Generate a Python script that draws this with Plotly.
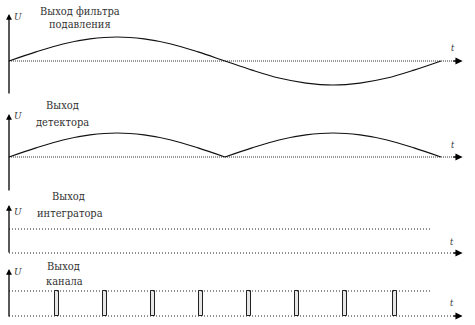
import plotly.graph_objects as go

W, H = 475, 325
PX_PER_T = 48.0   # horizontal pixels per time unit
X0_PX = 9         # pixel x of t = 0

# ---------------- data ----------------
t_sig = [0, 0.5625, 1.125, 1.6875, 2.25, 2.8125, 3.375, 3.9375, 4.5,
         5.0625, 5.625, 6.1875, 6.75, 7.3125, 7.875, 8.4375, 9.0]
v_filter = [0, 0.38, 0.71, 0.92, 1.0, 0.92, 0.71, 0.38, 0,
            -0.38, -0.71, -0.92, -1.0, -0.92, -0.71, -0.38, 0]
t_arch1 = [0, 0.5625, 1.125, 1.6875, 2.25, 2.8125, 3.375, 3.9375, 4.5]
t_arch2 = [4.5, 5.0625, 5.625, 6.1875, 6.75, 7.3125, 7.875, 8.4375, 9.0]
v_det1 = [0, 0.38, 0.71, 0.92, 1.0, 0.92, 0.71, 0.38, 0]
v_det2 = [0, 0.38, 0.71, 0.92, 1.0, 0.92, 0.71, 0.38, 0]
t_int = [0, 8.77]
v_int = [1, 1]
t_pulse = [1, 2, 3, 4, 5, 6, 7, 8.04]
v_pulse = [1, 1, 1, 1, 1, 1, 1, 1]
t_base = [0, 9.3]
v_base = [0, 0]
T_ARROW_END = 9.45

titles = [("Выход фильтра", "подавления"), ("Выход", "детектора"),
          ("Выход", "интегратора"), ("Выход", "канала")]

# ---------------- layout geometry (pixels) ----------------
panels = [
    dict(top=0, bot=100, base=61, s=24.0, ytop=14, ybot=95),
    dict(top=100, bot=196, base=157, s=24.0, ytop=114, ybot=192),
    dict(top=196, bot=262, base=253, s=24.0, ytop=205, ybot=254),
    dict(top=262, bot=325, base=316, s=25.0, ytop=269, ybot=318),
]
title_pos = [((80, 11), (80, 25)), ((62, 106), (62, 122)),
             ((68, 196), (70, 213)), ((63, 266), (64, 281))]
u_pos = [(18, 17), (18, 115), (18, 212), (18, 271)]
t_pos = [(453, 48), (453, 145), (452, 242), (452, 303)]

def px2val(p, panel):
    return (panel["base"] - p) / panel["s"]

fig = go.Figure()
LINE = "#111111"
serif = "DejaVu Serif Condensed, DejaVu Serif"

xrange_ = [-X0_PX / PX_PER_T, (W - X0_PX) / PX_PER_T]
layout = dict(width=W, height=H, margin=dict(l=0, r=0, t=0, b=0),
              paper_bgcolor="white", plot_bgcolor="white", showlegend=False,
              bargap=0, font=dict(family=serif, size=11, color="#333333"))
annotations = []

for i, p in enumerate(panels):
    n = i + 1
    xa = "x" if n == 1 else f"x{n}"
    ya = "y" if n == 1 else f"y{n}"
    common = dict(showgrid=False, zeroline=False, showticklabels=False,
                  ticks="", showline=False, fixedrange=True)
    layout["xaxis" if n == 1 else f"xaxis{n}"] = dict(
        domain=[0, 1], range=xrange_, anchor=ya, **common)
    layout["yaxis" if n == 1 else f"yaxis{n}"] = dict(
        domain=[1 - p["bot"] / H, 1 - p["top"] / H],
        range=[px2val(p["bot"], p), px2val(p["top"], p)], anchor=xa, **common)

    if n <= 2:
        fig.add_trace(go.Scatter(x=t_base, y=v_base, mode="lines",
                                 line=dict(color="#777777", width=1.6, dash="1px,1px"),
                                 xaxis=xa, yaxis=ya, hoverinfo="skip"))
    else:
        fig.add_trace(go.Scatter(x=t_base, y=v_base, mode="lines",
                                 line=dict(color="#222222", width=1.2, dash="1px,2px"),
                                 xaxis=xa, yaxis=ya, hoverinfo="skip"))

    annotations.append(dict(x=T_ARROW_END, y=0, ax=T_ARROW_END - 0.22, ay=0,
                            xref=xa, yref=ya, axref=xa, ayref=ya, text="",
                            showarrow=True, arrowhead=2, arrowsize=1.1,
                            arrowwidth=1.3, arrowcolor="#000"))
    annotations.append(dict(x=0, y=px2val(p["ytop"], p), ax=0, ay=px2val(p["ybot"], p),
                            xref=xa, yref=ya, axref=xa, ayref=ya, text="",
                            showarrow=True, arrowhead=2, arrowsize=0.9,
                            arrowwidth=1.3, arrowcolor="#000"))
    for (tx, ty), txt in zip(title_pos[i], titles[i]):
        annotations.append(dict(x=tx / W, y=1 - ty / H, xref="paper", yref="paper",
                                text=txt, showarrow=False, xanchor="center",
                                yanchor="middle",
                                font=dict(family=serif, size=11, color="#333333")))
    ux, uy = u_pos[i]
    annotations.append(dict(x=ux / W, y=1 - uy / H, xref="paper", yref="paper",
                            text="<i>U</i>", showarrow=False, xanchor="center",
                            yanchor="middle",
                            font=dict(family=serif, size=10, color="#333333")))
    tx, ty = t_pos[i]
    annotations.append(dict(x=tx / W, y=1 - ty / H, xref="paper", yref="paper",
                            text="<i>t</i>", showarrow=False, xanchor="center",
                            yanchor="middle",
                            font=dict(family=serif, size=9, color="#333333")))

fig.add_trace(go.Scatter(x=t_sig, y=v_filter, mode="lines",
                         line=dict(color=LINE, width=1.1, shape="spline"),
                         xaxis="x", yaxis="y", hoverinfo="skip"))
for tt, vv in ((t_arch1, v_det1), (t_arch2, v_det2)):
    fig.add_trace(go.Scatter(x=tt, y=vv, mode="lines",
                             line=dict(color=LINE, width=1.1, shape="spline"),
                             xaxis="x2", yaxis="y2", hoverinfo="skip"))
fig.add_trace(go.Scatter(x=t_int, y=v_int, mode="lines",
                         line=dict(color="#222222", width=1.2, dash="1px,2px"),
                         xaxis="x3", yaxis="y3", hoverinfo="skip"))
fig.add_trace(go.Scatter(x=t_int, y=v_int, mode="lines",
                         line=dict(color="#222222", width=1.2, dash="1px,2px"),
                         xaxis="x4", yaxis="y4", hoverinfo="skip"))
fig.add_trace(go.Bar(x=t_pulse, y=v_pulse, width=0.08,
                     marker=dict(color="#e6e6e6", line=dict(color="#222222", width=1)),
                     xaxis="x4", yaxis="y4", hoverinfo="skip"))

layout["annotations"] = annotations
fig.update_layout(**layout)
fig.write_html("out.html")
